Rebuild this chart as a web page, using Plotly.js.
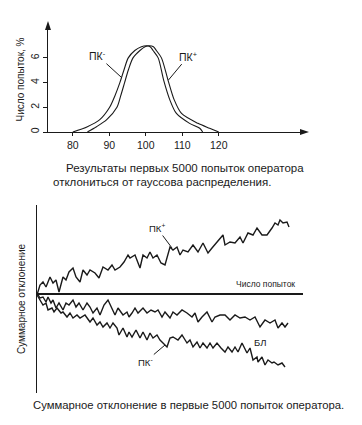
<!DOCTYPE html>
<html>
<head>
<meta charset="utf-8">
<script src="https://cdn.plot.ly/plotly-3.0.1.min.js"></script>
<style>html,body{margin:0;padding:0;background:#fff}#chart{width:362px;height:425px}</style>
</head>
<body>
<div id="chart"></div>
<script>
// ---- top chart: distribution of attempts (%)
const distTicks = [80, 90, 100, 110, 120];
const distYTicks = [0, 2, 4, 6];
const pkMinusX = [80, 84, 87.4, 90.1, 91.5, 92.9, 94.0, 95.2, 97.0, 98.8, 100.2, 101.2, 102.0, 103.4, 104.9, 106.6, 108.4, 112.0, 114.8, 115.6];
const pkMinusY = [0, 0.43, 1.0, 2.0, 2.9, 4.0, 5.0, 6.0, 6.6, 6.9, 6.98, 6.9, 6.6, 6.0, 4.2, 2.6, 1.5, 0.7, 0.3, 0];
const pkPlusX = [84, 86.5, 89.3, 92.1, 93.1, 94.2, 95.2, 96.5, 98.4, 99.8, 101.0, 102.1, 102.9, 104.3, 106.1, 107.8, 109.8, 114.3, 117.5, 120];
const pkPlusY = [0, 0.43, 1.0, 2.0, 2.9, 4.0, 5.0, 6.0, 6.6, 6.9, 6.98, 6.9, 6.6, 6.0, 4.2, 2.6, 1.5, 0.7, 0.3, 0];

// ---- bottom chart: cumulative deviation vs number of attempts
const walkPlusX = [0,60,120,180,260,320,380,440,520,580,640,720,780,860,920,1000,1060,1160,1240,1320,1420,1500,1560,1660,1740,1820,1860,1960,2060,2120,2200,2260,2320,2400,2480,2560,2660,2720,2800,2860,2920,3020,3120,3220,3320,3420,3500,3580,3660,3720,3760,3860,3960,4060,4120,4220,4320,4400,4500,4600,4700,4760,4820,4860,4920,5000,5040];
const walkPlusY = [-1,9,12,7,17,11,14,2,17,14,22,26,17,12,24,19,24,21,16,27,24,29,24,27,32,39,36,39,26,39,36,42,36,39,31,29,47,44,47,39,44,42,49,42,51,41,46,51,56,59,49,52,51,57,51,61,59,66,59,59,66,71,69,74,71,72,67];
const walkBaseX = [0,60,120,180,220,280,320,380,440,520,580,640,720,780,840,920,1000,1060,1120,1200,1260,1340,1420,1500,1560,1620,1720,1800,1840,1900,1960,2020,2120,2200,2280,2360,2420,2500,2560,2660,2720,2800,2900,3000,3100,3160,3220,3300,3400,3500,3560,3660,3760,3860,3960,4060,4160,4260,4360,4460,4560,4660,4760,4820,4900,4960,5020];
const walkBaseY = [1,-4,-3,-8,-3,-9,-6,-14,-9,-16,-9,-11,-6,-13,-9,-16,-9,-13,-19,-14,-21,-11,-6,-14,-21,-14,-21,-18,-23,-19,-14,-19,-14,-19,-16,-18,-16,-23,-18,-24,-18,-21,-16,-19,-23,-19,-28,-23,-18,-28,-23,-21,-21,-26,-21,-24,-23,-26,-23,-33,-26,-29,-26,-34,-29,-33,-29];
const walkMinusX = [0,60,120,180,220,300,340,400,480,520,600,660,720,800,860,960,1060,1120,1200,1260,1320,1400,1460,1520,1600,1640,1720,1800,1840,1900,1980,2060,2120,2200,2260,2320,2400,2460,2520,2600,2660,2720,2820,2900,3000,3060,3120,3200,3260,3320,3400,3460,3520,3600,3680,3760,3820,3900,3960,4020,4100,4200,4260,4320,4400,4420,4500,4560,4620,4700,4740,4820,4900,4960];
const walkMinusY = [-1,-6,-11,-9,-16,-14,-18,-14,-19,-18,-23,-19,-24,-21,-24,-21,-28,-24,-31,-28,-33,-29,-34,-29,-34,-41,-34,-43,-38,-43,-36,-44,-38,-46,-39,-44,-41,-46,-49,-53,-44,-43,-46,-41,-49,-46,-53,-48,-54,-49,-54,-49,-54,-49,-54,-58,-53,-58,-53,-58,-49,-59,-54,-66,-63,-68,-63,-71,-66,-69,-68,-71,-69,-73];

const W = 362, H = 425;
const px = v => v / W;
const py = v => 1 - v / H;
const INK = '#1a1a1a';
const FONT = 'Liberation Sans, Arial, sans-serif';
const NARROW = 'Liberation Sans Narrow, Liberation Sans, Arial, sans-serif';

const lineTop = {color: INK, width: 1.1, shape: 'spline', smoothing: 0.8};
const lineWalk = {color: INK, width: 1.4};

const data = [
  {x: pkMinusX, y: pkMinusY, type: 'scatter', mode: 'lines', line: lineTop, xaxis: 'x', yaxis: 'y', hoverinfo: 'skip'},
  {x: pkPlusX, y: pkPlusY, type: 'scatter', mode: 'lines', line: lineTop, xaxis: 'x', yaxis: 'y', hoverinfo: 'skip'},
  {x: walkPlusX, y: walkPlusY, type: 'scatter', mode: 'lines', line: lineWalk, xaxis: 'x2', yaxis: 'y2', hoverinfo: 'skip'},
  {x: walkBaseX, y: walkBaseY, type: 'scatter', mode: 'lines', line: lineWalk, xaxis: 'x2', yaxis: 'y2', hoverinfo: 'skip'},
  {x: walkMinusX, y: walkMinusY, type: 'scatter', mode: 'lines', line: lineWalk, xaxis: 'x2', yaxis: 'y2', hoverinfo: 'skip'}
];

// arrow heads at the ends of the top chart's axes (paper coordinates)
function tri(pts) {
  return 'M ' + pts.map(p => px(p[0]).toFixed(5) + ',' + py(p[1]).toFixed(5)).join(' L ') + ' Z';
}

const layout = {
  width: W, height: H,
  margin: {l: 0, r: 0, t: 0, b: 0},
  paper_bgcolor: '#fff', plot_bgcolor: 'rgba(0,0,0,0)',
  showlegend: false,
  font: {family: FONT, color: INK},
  xaxis: {
    domain: [px(48), px(303)], anchor: 'y', range: [73.2, 143.1],
    tickvals: distTicks, ticks: 'outside', ticklen: 3, tickcolor: INK,
    showline: true, linecolor: INK, linewidth: 1.2, showgrid: false, zeroline: false,
    tickfont: {family: NARROW, size: 10.5, color: INK}, fixedrange: true
  },
  yaxis: {
    domain: [py(132), py(27)], anchor: 'x', range: [0, 8.5],
    tickvals: distYTicks, ticks: 'outside', ticklen: 4, tickcolor: INK, tickangle: -90,
    showline: true, linecolor: INK, linewidth: 1.2, showgrid: false, zeroline: false,
    tickfont: {family: NARROW, size: 10.5, color: INK},
    title: {text: 'Число попыток, %', font: {family: NARROW, size: 10, color: INK}, standoff: 2},
    fixedrange: true
  },
  xaxis2: {
    domain: [px(37), px(303)], anchor: 'y2', range: [0, 5320],
    showticklabels: false, ticks: '', showline: false, showgrid: false, zeroline: false, fixedrange: true
  },
  yaxis2: {
    domain: [py(393), py(205)], anchor: 'x2', range: [-99, 89],
    showticklabels: false, ticks: '', showline: true, linecolor: INK, linewidth: 1.5,
    showgrid: false, zeroline: true, zerolinecolor: INK, zerolinewidth: 1.6,
    title: {text: 'Суммарное отклонение', font: {family: NARROW, size: 10, color: INK}, standoff: 8},
    fixedrange: true
  },
  shapes: [
    {type: 'path', xref: 'paper', yref: 'paper', path: tri([[309, 132], [300, 129], [300, 135]]), fillcolor: INK, line: {width: 0}},
    {type: 'path', xref: 'paper', yref: 'paper', path: tri([[48, 21], [45, 30], [51, 30]]), fillcolor: INK, line: {width: 0}}
  ],
  annotations: [
    // curve labels (top)
    {xref: 'x', yref: 'y', x: 93.4, y: 4.4, ax: -24, ay: -22, text: 'ПК<sup>-</sup>', showarrow: true, arrowhead: 0, arrowwidth: 1, arrowcolor: INK, font: {family: NARROW, size: 10.5, color: INK}},
    {xref: 'x', yref: 'y', x: 106.2, y: 4.2, ax: 20, ay: -24, text: 'ПК<sup>+</sup>', showarrow: true, arrowhead: 0, arrowwidth: 1, arrowcolor: INK, font: {family: NARROW, size: 10.5, color: INK}},
    // caption top
    {xref: 'paper', yref: 'paper', x: px(185), y: py(168), text: 'Результаты первых 5000 попыток оператора', showarrow: false, font: {family: FONT, size: 11.5, color: INK}},
    {xref: 'paper', yref: 'paper', x: px(162), y: py(182), text: 'отклониться от гауссова распределения.', showarrow: false, font: {family: FONT, size: 11.5, color: INK}},
    // bottom chart labels
    {xref: 'x2', yref: 'y2', x: 4560, y: 3, yanchor: 'bottom', text: 'Число попыток', showarrow: false, font: {family: NARROW, size: 8.5, color: INK}},
    {xref: 'x2', yref: 'y2', x: 2700, y: 46, ax: -15, ay: -20, text: 'ПК<sup>+</sup>', showarrow: true, arrowhead: 0, arrowwidth: 1, arrowcolor: INK, font: {family: NARROW, size: 9.5, color: INK}},
    {xref: 'x2', yref: 'y2', x: 2560, y: -51, ax: -20, ay: 17, text: 'ПК<sup>-</sup>', showarrow: true, arrowhead: 0, arrowwidth: 1, arrowcolor: INK, font: {family: NARROW, size: 9.5, color: INK}},
    {xref: 'x2', yref: 'y2', x: 4460, y: -48, text: 'БЛ', showarrow: false, font: {family: NARROW, size: 9.5, color: INK}},
    // caption bottom
    {xref: 'paper', yref: 'paper', x: px(188), y: py(413), text: 'Суммарное отклонение в первые 5000 попыток оператора.', showarrow: false, font: {family: FONT, size: 11.3, color: INK}}
  ]
};

Plotly.newPlot('chart', data, layout, {displayModeBar: false, staticPlot: true});
</script>
</body>
</html>
